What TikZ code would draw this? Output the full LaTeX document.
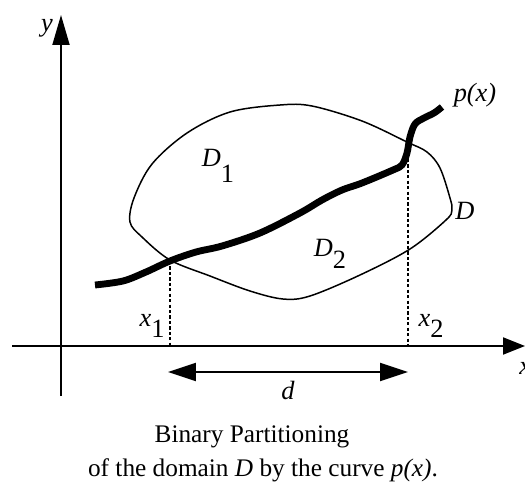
\documentclass[tikz,border=0pt]{standalone}
\usepackage{fontspec}
\setmainfont{Liberation Serif}
\usetikzlibrary{arrows.meta, positioning}

\begin{document}
\begin{tikzpicture}[
    x=0.02cm, y=-0.02cm,
    axisline/.style={line width=1.1pt},
    boundary/.style={line width=0.85pt, line join=round},
    pcurve/.style={line width=3.9pt, line join=round},
    dropline/.style={line width=0.9pt, dash pattern=on 1.8pt off 1.3pt},
    gap/.style={line width=1.1pt, {Triangle[length=0.56cm, width=0.36cm]}-{Triangle[length=0.56cm, width=0.36cm]}},
    lbl/.style={font=\fontsize{15}{17}\selectfont\itshape, inner sep=1pt},
    caption/.style={font=\fontsize{14.4}{17}\selectfont, inner sep=1pt}
]
\useasboundingbox (0,0) rectangle (525,491);
% axes
\coordinate (ybot) at (61,396);
\coordinate (ytop) at (61,15);
\coordinate (xleft) at (12,346);
\coordinate (xright) at (525,346);
\draw[axisline, -{Triangle[length=0.6cm, width=0.34cm]}] (ybot) -- (ytop);
\draw[axisline, -{Triangle[length=0.44cm, width=0.34cm]}] (xleft) -- (xright);
\node[lbl] (ylab) at (47,28) {y};
\node[lbl, anchor=west, inner sep=0pt] (xlab) at (519,368) {x};
% domain D
\draw[boundary] plot[smooth cycle, tension=0.55] coordinates {
    (130,222) (134,198) (152,164) (187,133) (230,112) (280,105) (312,106)
    (362,121) (407,142) (427,152) (440,168) (450,198) (452,210) (446,220)
    (410,249) (360,275) (310,296) (283,299) (250,291) (210,276) (170,260)
    (142,237)};
% curve p(x)
\draw[pcurve] plot[smooth, tension=0.55] coordinates {
    (95,285) (123,281) (146,272) (170,261) (196,252) (222,246) (260,233)
    (300,213) (322,200) (342,190) (362,183) (393,170) (402,165) (407,153)
    (410,137) (415,124) (424,118) (434,113) (442,107)};
% projections onto the x axis
\coordinate (xone) at (170,261);
\coordinate (xonefoot) at (170,346);
\coordinate (xtwo) at (408,148);
\coordinate (xtwofoot) at (408,346);
\draw[dropline] (xone) -- (xonefoot);
\draw[dropline] (xtwo) -- (xtwofoot);
\coordinate (dleft) at (168,372);
\coordinate (dright) at (408,372);
\draw[gap] (dleft) -- (dright);
% labels
\node[lbl] (plab) at (475,95) {p(x)};
\node[lbl] (Dlab) at (465,211) {D};
\node[lbl] (Done) at (218,166) {D\raisebox{-1.3ex}{\upshape 1}};
\node[lbl] (Dtwo) at (330,254) {D\raisebox{-1.0ex}{\upshape 2}};
\node[lbl] (xonelab) at (152,326) {x\raisebox{-0.9ex}{\upshape 1}};
\node[lbl] (xtwolab) at (431,326) {x\raisebox{-0.9ex}{\upshape 2}};
\node[lbl] (dlab) at (288,390) {d};
% caption
\node[caption] (title) at (252,437) {Binary Partitioning};
\node[caption] (subtitle) at (263,470) {of the domain \textit{D} by the curve \textit{p(x)}.};
\end{tikzpicture}
\end{document}
